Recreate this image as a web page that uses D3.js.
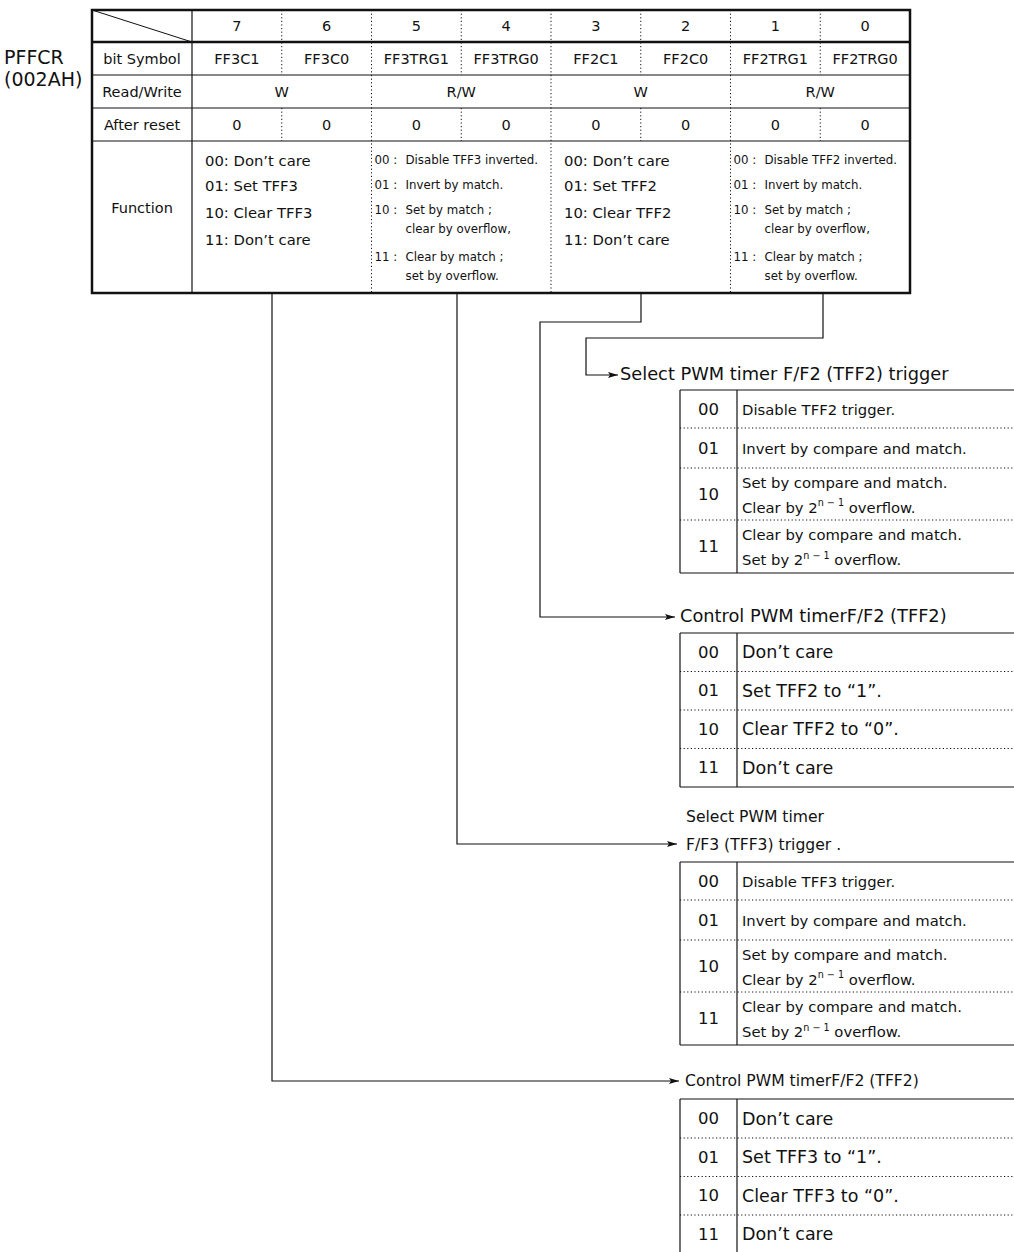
<!DOCTYPE html>
<html><head><meta charset="utf-8">
<script src="https://cdn.jsdelivr.net/npm/d3@7"></script>
<style>body{margin:0;background:#fff}svg{display:block}text{font-family:"DejaVu Sans",sans-serif;fill:#111}</style>
</head><body><svg id="c" width="1014" height="1252"></svg>
<script>
// ---- data ----
const regName = ["PFFCR", "(002AH)"];
const bits = [7, 6, 5, 4, 3, 2, 1, 0];
const symbols = ["FF3C1", "FF3C0", "FF3TRG1", "FF3TRG0", "FF2C1", "FF2C0", "FF2TRG1", "FF2TRG0"];
const rowLabels = ["bit Symbol", "Read/Write", "After reset", "Function"];
const rwGroups = ["W", "R/W", "W", "R/W"];
const resetValues = [0, 0, 0, 0, 0, 0, 0, 0];
const funcTFF3 = ["00: Don\u2019t care", "01: Set TFF3", "10: Clear TFF3", "11: Don\u2019t care"];
const funcTRG3 = [["00 :", "Disable TFF3 inverted."], ["01 :", "Invert by match."], ["10 :", "Set by match ;", "clear by overflow,"], ["11 :", "Clear by match ;", "set by overflow."]];
const funcTFF2 = ["00: Don\u2019t care", "01: Set TFF2", "10: Clear TFF2", "11: Don\u2019t care"];
const funcTRG2 = [["00 :", "Disable TFF2 inverted."], ["01 :", "Invert by match."], ["10 :", "Set by match ;", "clear by overflow,"], ["11 :", "Clear by match ;", "set by overflow."]];

const sub1Title = ["Select PWM timer F/F2 (TFF2) trigger"];
const sub1Codes = ["00", "01", "10", "11"];
const sub1Text = [["Disable TFF2 trigger."], ["Invert by compare and match."], ["Set  by compare and match.", "Clear by 2|n \u2212 1| overflow."], ["Clear by compare and match.", "Set by 2|n \u2212 1| overflow."]];
const sub2Title = ["Control PWM timerF/F2 (TFF2)"];
const sub2Codes = ["00", "01", "10", "11"];
const sub2Text = [["Don\u2019t care"], ["Set TFF2 to \u201c1\u201d."], [" Clear TFF2 to \u201c0\u201d."], ["Don\u2019t care"]];
const sub3Title = ["Select PWM timer", "F/F3 (TFF3) trigger ."];
const sub3Codes = ["00", "01", "10", "11"];
const sub3Text = [["Disable TFF3 trigger."], ["Invert by compare and match."], ["Set  by compare and match.", "Clear by 2|n \u2212 1| overflow."], ["Clear by compare and match.", "Set by 2|n \u2212 1| overflow."]];
const sub4Title = ["Control PWM timerF/F2 (TFF2)"];
const sub4Codes = ["00", "01", "10", "11"];
const sub4Text = [["Don\u2019t care"], ["Set TFF3 to \u201c1\u201d."], ["Clear TFF3 to \u201c0\u201d."], ["Don\u2019t care"]];

// ---- layout ----
const svg = d3.select("#c");
const X0 = 92, XL = 192, X1 = 910;
const rowY = [10, 42, 75, 108, 141, 293];
const x = d3.scaleBand().domain(bits).range([XL, X1]);
const bw = x.bandwidth();

svg.append("defs").append("marker").attr("id", "ar").attr("viewBox", "0 0 10 6")
  .attr("refX", 10).attr("refY", 3).attr("markerWidth", 10).attr("markerHeight", 6)
  .attr("markerUnits", "userSpaceOnUse").attr("orient", "auto")
  .append("path").attr("d", "M0,0L10,3L0,6L2,3Z").attr("fill", "#111");

const g = svg.append("g");
function line(x1, y1, x2, y2, w, dash) {
  const l = g.append("line").attr("x1", x1).attr("y1", y1).attr("x2", x2).attr("y2", y2)
    .attr("stroke", "#111").attr("stroke-width", w || 1);
  if (dash) l.attr("stroke-dasharray", dash);
  return l;
}
function txt(s, tx, ty, size, anchor) {
  return g.append("text").attr("x", tx).attr("y", ty).attr("font-size", size)
    .attr("text-anchor", anchor || "start").attr("dominant-baseline", "central").text(s);
}
const DOT = "1.2,2.4";

// register name
regName.forEach((s, i) => txt(s, 4, 57 + i * 22, 19));

// horizontal lines
line(X0, rowY[1], X1, rowY[1], 2.5);
[2, 3, 4].forEach(i => line(X0, rowY[i], X1, rowY[i], 1));
// diagonal
line(X0, rowY[0], XL, rowY[1], 1);
// label column divider
line(XL, rowY[0], XL, rowY[5], 1.2);
// bit dividers
bits.slice(1).forEach((b, i) => {
  const bx = x(b);
  const groupBoundary = (i % 2 === 1);
  line(bx, rowY[0], bx, rowY[2], 1, DOT);
  if (groupBoundary) line(bx, rowY[2], bx, rowY[5], 1, DOT);
  else line(bx, rowY[3], bx, rowY[4], 1, DOT);
});
// outer border
g.append("rect").attr("x", X0).attr("y", rowY[0]).attr("width", X1 - X0).attr("height", rowY[5] - rowY[0])
  .attr("fill", "none").attr("stroke", "#111").attr("stroke-width", 2.5);

// row labels
rowLabels.forEach((s, i) => {
  const cy = i === 3 ? 208 : (rowY[i + 1] + rowY[i + 2]) / 2;
  txt(s, (X0 + XL) / 2, cy, 14.5, "middle");
});
// header bits
bits.forEach(b => txt(String(b), x(b) + bw / 2, (rowY[0] + rowY[1]) / 2, 14.5, "middle"));
symbols.forEach((s, i) => txt(s, x(bits[i]) + bw / 2, (rowY[1] + rowY[2]) / 2, 14.5, "middle"));
rwGroups.forEach((s, i) => txt(s, x(bits[i * 2]) + bw, (rowY[2] + rowY[3]) / 2, 14.5, "middle"));
resetValues.forEach((v, i) => txt(String(v), x(bits[i]) + bw / 2, (rowY[3] + rowY[4]) / 2, 14.5, "middle"));

// function texts
function bigFunc(list, gx) {
  const ys = [160, 185, 212, 239];
  list.forEach((s, i) => txt(s, gx + 13, ys[i], 14.8));
}
function smallFunc(list, gx) {
  const ys = [[160], [185], [210, 229], [257, 276]];
  list.forEach((item, i) => {
    txt(item[0], gx + 3, ys[i][0], 11.8);
    item.slice(1).forEach((s, j) => txt(s, gx + 34, ys[i][j], 11.8));
  });
}
bigFunc(funcTFF3, x(7));
smallFunc(funcTRG3, x(5));
bigFunc(funcTFF2, x(3));
smallFunc(funcTRG2, x(1));

// connectors
function path(pts, arrow) {
  const p = g.append("path").attr("d", d3.line()(pts)).attr("fill", "none")
    .attr("stroke", "#111").attr("stroke-width", 1.2);
  if (arrow) p.attr("marker-end", "url(#ar)");
}
path([[823, rowY[5]], [823, 338], [586, 338], [586, 375], [618, 375]], true);
path([[641, rowY[5]], [641, 322], [540, 322], [540, 617], [675, 617]], true);
path([[457, rowY[5]], [457, 844], [677, 844]], true);
path([[272, rowY[5]], [272, 1081], [679, 1081]], true);

// sub tables
const TL = 680, TC = 737, TR = 1016;
function richLine(s, tx, ty, size) {
  const t = g.append("text").attr("x", tx).attr("y", ty).attr("font-size", size).attr("dominant-baseline", "central");
  const parts = s.split("|");
  parts.forEach((p, k) => {
    const sp = t.append("tspan").text(p);
    if (k === 1) sp.attr("font-size", size * 0.65).attr("dy", -size * 0.3);
    if (k === 2) sp.attr("dy", size * 0.3);
  });
}
function subTable(title, titleX, titleYs, titleSize, top, heights, codes, texts, codeSize, textSize, lineGap) {
  title.forEach((s, i) => txt(s, titleX, titleYs[i], titleSize));
  const ys = [top];
  heights.forEach(h => ys.push(ys[ys.length - 1] + h));
  const bot = ys[ys.length - 1];
  line(TL, top, TR, top, 1.2);
  line(TL, bot, TR, bot, 1.2);
  line(TL, top, TL, bot, 1.2);
  line(TC, top, TC, bot, 1.2);
  ys.slice(1, -1).forEach(yy => line(TL, yy, TR, yy, 1, DOT));
  codes.forEach((c, i) => {
    const cy = (ys[i] + ys[i + 1]) / 2;
    txt(c, (TL + TC) / 2, cy, codeSize, "middle");
    const ls = texts[i];
    ls.forEach((s, j) => richLine(s, TC + 5, cy + (j - (ls.length - 1) / 2) * lineGap, textSize));
  });
}
subTable(sub1Title, 620, [373], 17.8, 390, [38, 40, 52, 53], sub1Codes, sub1Text, 16.5, 14.8, 25);
subTable(sub2Title, 680, [615], 17.8, 633, [38.5, 38.5, 38.5, 38.5], sub2Codes, sub2Text, 16.5, 17.5, 0);
subTable(sub3Title, 686, [817, 845], 15.6, 862, [38, 40, 52, 53], sub3Codes, sub3Text, 16.5, 14.8, 25);
subTable(sub4Title, 685, [1081], 15.6, 1099, [39, 38.5, 38.5, 38.5], sub4Codes, sub4Text, 16.5, 17.5, 0);
</script></body></html>
